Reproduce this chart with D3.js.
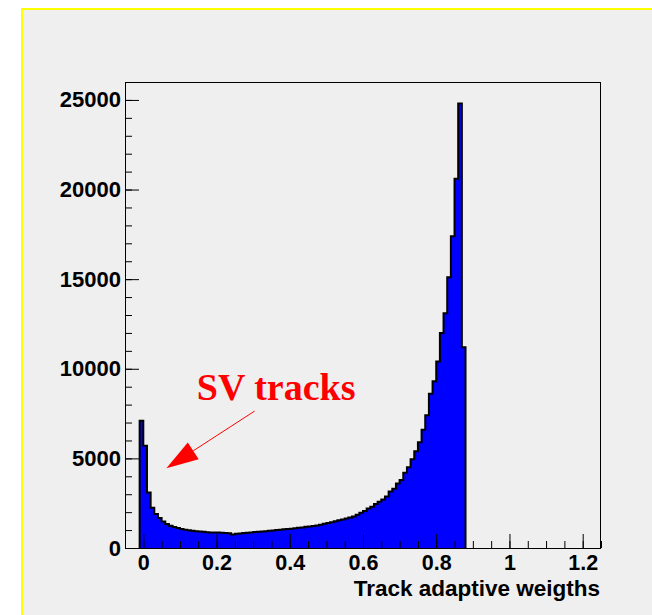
<!DOCTYPE html>
<html>
<head>
<meta charset="utf-8">
<script src="https://cdn.jsdelivr.net/npm/d3@7"></script>
<style>
  html, body { margin: 0; padding: 0; background: #ffffff; }
  svg { display: block; }
</style>
</head>
<body>
<svg id="chart" width="652" height="615"></svg>
<script>
// Histogram of track adaptive weights: bins of width 0.01 starting at -0.01
const binStart = -0.01;
const binWidth = 0.01;
const counts = [
  7100, 5700, 3100, 2250, 1900, 1680, 1480, 1340, 1240, 1170,
  1110, 1060, 1020,  990,  960,  940,  920,  900,  880,  870,
   860,  860,  850,  840,  820,  760,  790,  810,  830,  850,
   870,  890,  900,  920,  940,  960,  980, 1000, 1020, 1040,
  1060, 1080, 1100, 1130, 1150, 1180, 1200, 1230, 1260, 1300,
  1350, 1390, 1440, 1490, 1550, 1590, 1650, 1700, 1760, 1850,
  1960, 2060, 2200, 2300, 2450, 2580, 2700, 2880, 3150, 3300,
  3600, 3800, 4200, 4500, 4950, 5400, 5900, 6600, 7400, 8600,
  9300, 10400, 12000, 13100, 15100, 17400, 20600, 24800, 11200
];

// Axis ranges and tick values
const xDomain = [-0.05, 1.25];
const yDomain = [0, 26000];
const xMajorTicks = [0, 0.2, 0.4, 0.6, 0.8, 1, 1.2];
const xTickLabels = ["0", "0.2", "0.4", "0.6", "0.8", "1", "1.2"];
const xMinorStep = 0.05;
const yMajorTicks = [0, 5000, 10000, 15000, 20000, 25000];
const yTickLabels = ["0", "5000", "10000", "15000", "20000", "25000"];
const yMinorStep = 1000;

const xTitle = "Track adaptive weigths";
const noteText = "SV tracks";
// annotation arrow, in data coordinates: tail -> tip
const arrowTail = [0.304, 7640];
const arrowTip = [0.063, 4450];
const notePos = [0.146, 8270];

const svg = d3.select("#chart");
const W = 652, H = 615;
const frame = { left: 125, right: 601, top: 82, bottom: 548 };

// canvas background and yellow border
svg.append("rect").attr("width", W).attr("height", H).attr("fill", "#ffffff");
svg.append("rect")
  .attr("x", 22).attr("y", 9).attr("width", W + 10).attr("height", H + 10)
  .attr("fill", "#efefef").attr("stroke", "#ffff00").attr("stroke-width", 2);

const x = d3.scaleLinear().domain(xDomain).range([frame.left, frame.right]);
const y = d3.scaleLinear().domain(yDomain).range([frame.bottom, frame.top]);

// histogram outline points (step shape)
const pts = [[binStart, 0]];
counts.forEach((c, i) => {
  const e0 = binStart + i * binWidth;
  pts.push([e0, c], [e0 + binWidth, c]);
});
pts.push([binStart + counts.length * binWidth, 0]);

const line = d3.line().x(d => x(d[0])).y(d => y(d[1]));
svg.append("path")
  .attr("d", line(pts))
  .attr("fill", "#0000ff")
  .attr("stroke", "#000000")
  .attr("stroke-width", 2)
  .attr("stroke-linejoin", "miter");

// frame
svg.append("rect")
  .attr("x", frame.left + 0.5).attr("y", frame.top + 0.5)
  .attr("width", frame.right - frame.left - 1).attr("height", frame.bottom - frame.top)
  .attr("fill", "none").attr("stroke", "#000000").attr("stroke-width", 1);

const font = "'Liberation Sans', Arial, Helvetica, sans-serif";
const labelSize = 21.5;

// x axis: minor ticks
const xMinor = d3.range(Math.ceil(xDomain[0] / xMinorStep), Math.floor(xDomain[1] / xMinorStep) + 1)
  .map(k => +(k * xMinorStep).toFixed(4));
svg.append("g")
  .attr("transform", `translate(0,${frame.bottom})`)
  .call(d3.axisBottom(x).tickValues(xMinor).tickSize(-7).tickFormat(""))
  .call(g => g.select(".domain").remove())
  .call(g => g.selectAll("line").attr("stroke", "#000").attr("stroke-width", 1));

// x axis: major ticks and labels
svg.append("g")
  .attr("transform", `translate(0,${frame.bottom})`)
  .call(d3.axisBottom(x).tickValues(xMajorTicks).tickSize(-14).tickPadding(6.5)
    .tickFormat((d, i) => xTickLabels[i]))
  .call(g => g.select(".domain").remove())
  .call(g => g.selectAll("line").attr("stroke", "#000").attr("stroke-width", 1))
  .call(g => g.selectAll("text")
    .attr("fill", "#000").attr("font-family", font)
    .attr("font-weight", "bold").attr("font-size", labelSize));

// y axis: minor ticks
const yMinor = d3.range(yDomain[0], yDomain[1] + 1, yMinorStep);
svg.append("g")
  .attr("transform", `translate(${frame.left},0)`)
  .call(d3.axisLeft(y).tickValues(yMinor).tickSize(-7).tickFormat(""))
  .call(g => g.select(".domain").remove())
  .call(g => g.selectAll("line").attr("stroke", "#000").attr("stroke-width", 1));

// y axis: major ticks and labels
svg.append("g")
  .attr("transform", `translate(${frame.left},0)`)
  .call(d3.axisLeft(y).tickValues(yMajorTicks).tickSize(-14).tickPadding(4)
    .tickFormat((d, i) => yTickLabels[i]))
  .call(g => g.select(".domain").remove())
  .call(g => g.selectAll("line").attr("stroke", "#000").attr("stroke-width", 1))
  .call(g => g.selectAll("text")
    .attr("fill", "#000").attr("font-family", font)
    .attr("font-weight", "bold").attr("font-size", 22));

// x axis title, right aligned to the frame
svg.append("text")
  .attr("x", frame.right - 1).attr("y", 595.5)
  .attr("text-anchor", "end")
  .attr("font-family", font).attr("font-weight", "bold").attr("font-size", 22.5)
  .attr("fill", "#000")
  .text(xTitle);

// annotation: text and arrow
svg.append("text")
  .attr("x", x(notePos[0])).attr("y", y(notePos[1]))
  .attr("font-family", "'Liberation Serif', 'Times New Roman', serif")
  .attr("font-weight", "bold").attr("font-size", 38)
  .attr("fill", "#ff0000")
  .text(noteText);

const tx = x(arrowTail[0]), ty = y(arrowTail[1]);
const hx = x(arrowTip[0]), hy = y(arrowTip[1]);
const len = Math.hypot(hx - tx, hy - ty);
const ux = (hx - tx) / len, uy = (hy - ty) / len;
const headLen = 32, headHalf = 10;
const bx = hx - ux * headLen, by = hy - uy * headLen;
svg.append("line")
  .attr("x1", tx).attr("y1", ty).attr("x2", bx).attr("y2", by)
  .attr("stroke", "#ff0000").attr("stroke-width", 1);
svg.append("path")
  .attr("d", `M${hx},${hy}L${bx - uy * headHalf},${by + ux * headHalf}L${bx + uy * headHalf},${by - ux * headHalf}Z`)
  .attr("fill", "#ff0000");
</script>
</body>
</html>
